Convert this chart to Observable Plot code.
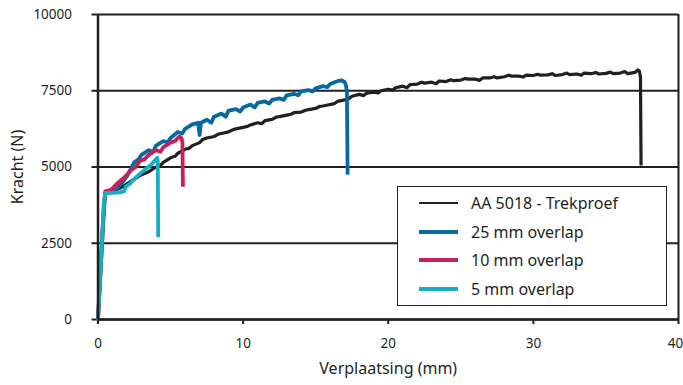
<!DOCTYPE html>
<html>
<head>
<meta charset="utf-8">
<script src="https://cdn.jsdelivr.net/npm/d3@7"></script>
<script src="https://cdn.jsdelivr.net/npm/@observablehq/plot@0.6"></script>
<style>
  html, body { margin: 0; padding: 0; background: #fff; }
  #wrap { position: relative; width: 683px; height: 385px; font-family: "Noto Sans", sans-serif; color: #231f20; }
  #legend { position: absolute; left: 397px; top: 186px; width: 270px; height: 120px; background: #fff; border: 1.5px solid #231f20; box-sizing: border-box; }
  .row { position: absolute; left: 0; height: 28px; }
  .sw { position: absolute; left: 21px; width: 39px; }
  .lab { position: absolute; left: 73px; font-size: 16px; white-space: nowrap; line-height: 28px; }
</style>
</head>
<body>
<div id="wrap"></div>
<script>
// ---- data ----
const seriesNames = ["AA 5018 - Trekproef", "25 mm overlap", "10 mm overlap", "5 mm overlap"];
const seriesColors = ["#231f20", "#0868a0", "#c8215a", "#14afc0"];
const seriesWidths = [3.2, 3.8, 3.8, 3.8];
const legendWidths = [1.2, 4, 4, 4];
const xTicks = [0, 10, 20, 30, 40];
const yTicks = [0, 2500, 5000, 7500, 10000];

const trekproefX = [0,0.15,0.3,0.45,0.55,1.0,1.5,2.0,2.5,3.0,3.3,3.5,4.0,4.3,4.5,5.0,5.3,5.5,6.0,6.3,6.5,7.0,7.2,7.5,8.0,8.3,8.5,9.0,9.3,9.5,10.0,10.3,10.5,11.0,11.3,11.5,12.0,12.3,12.5,13.0,13.3,13.5,14.0,14.3,14.5,15.0,15.3,15.5,16.0,16.3,16.5,17.0,17.3,17.5,18.0,18.3,18.5,19.0,19.3,19.5,20.0,20.3,20.5,21.0,21.3,21.5,22.0,22.3,22.5,23.0,23.3,23.5,24.0,24.3,24.5,25.0,25.3,25.5,26.0,26.3,26.5,27.0,27.3,27.5,28.0,28.3,28.5,29.0,29.3,29.5,30.0,30.3,30.5,31.0,31.3,31.5,32.0,32.3,32.5,33.0,33.3,33.5,34.0,34.3,34.5,35.0,35.3,35.5,36.0,36.3,36.5,37.0,37.2,37.3,37.38,37.42];
const trekproefY = [0,1500,2800,3900,4150,4200,4300,4450,4600,4750,4800,4850,5000,5050,5150,5300,5350,5450,5580,5620,5700,5800,5900,5950,6000,6080,6100,6150,6220,6250,6300,6330,6380,6450,6420,6520,6560,6640,6650,6700,6730,6780,6800,6860,6880,6920,6990,7000,7050,7080,7150,7200,7250,7320,7380,7340,7420,7450,7430,7500,7550,7520,7600,7650,7600,7700,7720,7780,7750,7780,7730,7820,7800,7860,7830,7850,7900,7880,7880,7840,7920,7920,7960,7920,7960,8010,7980,7980,7950,8010,8000,8040,8010,8020,8060,8000,8030,8080,8030,8050,8010,8080,8060,8100,8050,8070,8110,8060,8080,8130,8060,8100,8180,8150,7950,5050];

const overlap25X = [0,0.2,0.4,0.5,0.8,1.2,1.6,2.0,2.5,2.8,3.0,3.5,3.8,4.0,4.5,4.8,5.0,5.5,5.8,6.0,6.5,6.9,7.0,7.1,7.5,7.8,8.0,8.5,8.8,9.0,9.5,9.8,10.0,10.5,10.8,11.0,11.5,11.8,12.0,12.5,12.8,13.0,13.5,13.8,14.0,14.5,14.8,15.0,15.5,15.8,16.0,16.3,16.6,16.8,17.0,17.1,17.15,17.2];
const overlap25Y = [0,1800,3500,4150,4150,4250,4450,4700,5150,5250,5400,5550,5500,5700,5850,5800,5950,6150,6100,6250,6400,6450,6050,6450,6550,6450,6650,6750,6650,6850,6900,6820,6950,7050,6950,7100,7150,7080,7200,7250,7200,7350,7400,7350,7480,7520,7480,7580,7650,7620,7720,7780,7830,7840,7780,7650,7450,4750];

const overlap10X = [0,0.2,0.4,0.5,0.9,1.3,1.8,2.3,2.6,2.9,3.2,3.5,4.0,4.3,4.5,5.0,5.3,5.6,5.75,5.82,5.85];
const overlap10Y = [0,1800,3700,4200,4250,4450,4650,4900,5000,5200,5250,5400,5550,5500,5650,5800,5850,6000,5950,5800,4350];

const overlap5X = [0,0.2,0.4,0.5,1.0,1.5,1.8,1.9,2.2,2.7,3.2,3.6,4.0,4.08,4.12,4.15];
const overlap5Y = [0,1900,3800,4150,4150,4170,4200,4350,4450,4700,4900,5050,5250,5300,5200,2700];

// ---- build table ----
const raw = [[trekproefX, trekproefY], [overlap25X, overlap25Y], [overlap10X, overlap10Y], [overlap5X, overlap5Y]];
const lines = raw.map(([xs, ys], i) => xs.map((x, j) => ({x, y: ys[j], s: seriesNames[i]})));

const axisStyle = {tickSize: 5, tickPadding: 14, tickFormat: d => String(d), label: null, stroke: "#231f20", strokeWidth: 2, fill: "#231f20"};

const plot = Plot.plot({
  width: 683,
  height: 385,
  marginLeft: 97.5,
  marginRight: 5,
  marginTop: 14,
  marginBottom: 66,
  style: {fontFamily: "Noto Sans, sans-serif", fontSize: "13.5px", color: "#231f20", background: "#fff"},
  x: {domain: [0, 40]},
  y: {domain: [0, 10000]},
  marks: [
    Plot.ruleY(yTicks, {stroke: "#231f20", strokeWidth: 2}),
    Plot.ruleX([40], {y1: 0, y2: 10000, stroke: "#231f20", strokeWidth: 2}),
    Plot.axisY({ticks: yTicks, tickSize: 6, tickPadding: 20, tickFormat: d => String(d), label: null, stroke: "#231f20", strokeWidth: 2, fill: "#231f20"}),
    Plot.axisX({...axisStyle, ticks: xTicks.slice(0, -1)}),
    Plot.axisX({...axisStyle, ticks: xTicks.slice(-1), text: null}),
    Plot.axisX({...axisStyle, ticks: xTicks.slice(-1), tickSize: 0, tickPadding: 19, dx: -3}),
    ...lines.map((data, i) => Plot.line(data, {x: "x", y: "y", stroke: seriesColors[i], strokeWidth: seriesWidths[i], strokeLinejoin: "round", strokeLinecap: "butt"})),
    Plot.ruleX([0], {y1: 0, y2: 10000, stroke: "#231f20", strokeWidth: 2.5}),
    Plot.ruleY([0], {stroke: "#231f20", strokeWidth: 2.5}),
    Plot.text(["Verplaatsing (mm)"], {frameAnchor: "bottom", textAnchor: "middle", dy: 54, fontSize: 16, fill: "#231f20"}),
    Plot.text(["Kracht (N)"], {frameAnchor: "left", textAnchor: "middle", dx: -80, rotate: -90, fontSize: 16, fill: "#231f20"})
  ]
});

const wrap = document.getElementById("wrap");
wrap.appendChild(plot);

// legend
const legend = document.createElement("div");
legend.id = "legend";
seriesNames.forEach((name, i) => {
  const row = document.createElement("div");
  row.className = "row";
  row.style.top = (2 + i * 28.5) + "px";
  row.style.width = "100%";
  const sw = document.createElement("div");
  sw.className = "sw";
  sw.style.height = legendWidths[i] + "px";
  sw.style.background = seriesColors[i];
  sw.style.top = (14 - legendWidths[i] / 2) + "px";
  const lab = document.createElement("div");
  lab.className = "lab";
  lab.textContent = name;
  row.appendChild(sw);
  row.appendChild(lab);
  legend.appendChild(row);
});
wrap.appendChild(legend);
</script>
</body>
</html>
